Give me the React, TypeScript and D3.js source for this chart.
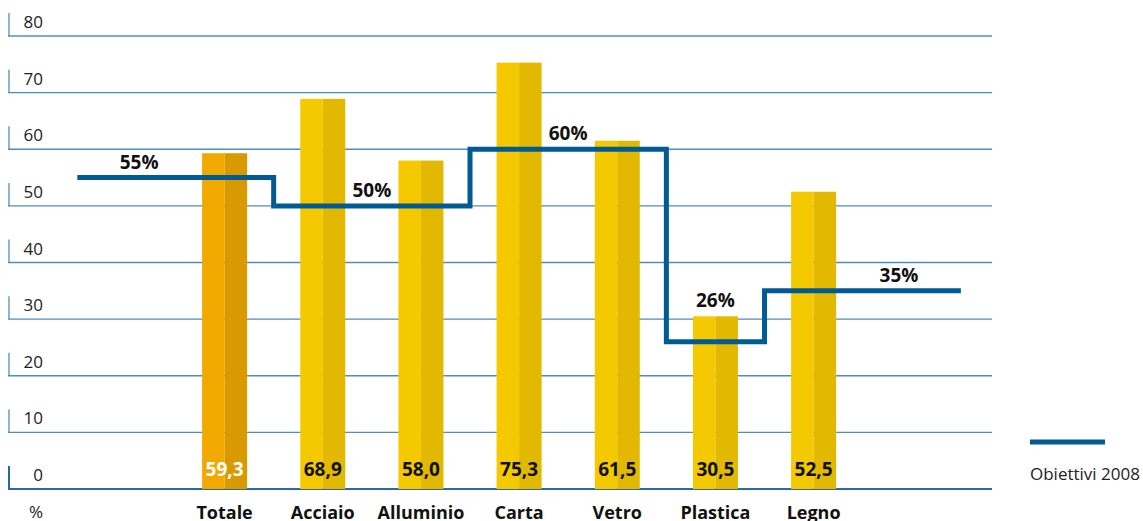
import React from 'react';
import * as d3 from 'd3';

const categories = ['Totale', 'Acciaio', 'Alluminio', 'Carta', 'Vetro', 'Plastica', 'Legno'];
const recycled = [59.3, 68.9, 58.0, 75.3, 61.5, 30.5, 52.5];
const objectives = [55, 50, 50, 60, 60, 26, 35];
const yTicks = [0, 10, 20, 30, 40, 50, 60, 70, 80];

const W = 1143;
const H = 521;
const font = '"Open Sans", "Noto Sans", sans-serif';
const lineBlue = '#005b94';
const gridBlue = '#4f8dbf';

export default function App() {
  const y = d3.scaleLinear().domain([0, 80]).range([489, 36]);
  const x = d3.scaleBand<string>()
    .domain(categories)
    .range([175.5, 862.7])
    .paddingInner(0.5416)
    .paddingOuter(0.2708);
  const step = x.step();
  const bw = x.bandwidth();
  const cx = (c: string) => (x(c) as number) + bw / 2;

  // step line: one band past each end
  const pts: [number, number][] = [];
  categories.forEach((c, i) => {
    const left = i === 0 ? cx(c) - 1.5 * step : cx(c) - step / 2;
    const right = i === categories.length - 1 ? cx(c) + 1.5 * step : cx(c) + step / 2;
    pts.push([left, y(objectives[i])], [right, y(objectives[i])]);
  });
  const line = d3.line();

  // group consecutive equal objectives for labels
  const segs: { v: number; from: number; to: number }[] = [];
  objectives.forEach((v, i) => {
    const last = segs[segs.length - 1];
    if (last && last.v === v) last.to = i;
    else segs.push({ v, from: i, to: i });
  });

  return (
    <svg width={W} height={H} style={{ position: 'absolute', left: 0, top: 0, background: '#fff' }}>
      {yTicks.map(t => (
        <g key={t}>
          <line x1={8} x2={992} y1={y(t)} y2={y(t)} stroke={t === 0 ? '#2a6aa3' : gridBlue} strokeWidth={t === 0 ? 2 : 1.3} />
          <line x1={9} x2={9} y1={y(t) - 23} y2={y(t)} stroke={t === 0 ? '#2a6aa3' : gridBlue} strokeWidth={t === 0 ? 2 : 1.3} />
          <text x={43} y={y(t) - 8} textAnchor="end" fontFamily={font} fontSize={17} fill="#222">{t}</text>
        </g>
      ))}
      <text x={43} y={518} textAnchor="end" fontFamily={font} fontSize={17} fill="#222">%</text>

      {categories.map((c, i) => {
        const x0 = x(c) as number;
        const top = y(recycled[i]);
        const first = i === 0;
        return (
          <g key={c}>
            <rect x={x0} y={top} width={bw / 2} height={y(0) - top} fill={first ? '#f1a900' : '#f5c900'} />
            <rect x={x0 + bw / 2} y={top} width={bw / 2} height={y(0) - top} fill={first ? '#d99a00' : '#e2b900'} />
            <text x={cx(c)} y={476} textAnchor="middle" fontFamily={font} fontWeight="bold" fontSize={19} fill={first ? '#fff' : '#111'}>
              {recycled[i].toFixed(1).replace('.', ',')}
            </text>
            <text x={cx(c)} y={519} textAnchor="middle" fontFamily={font} fontWeight="bold" fontSize={18} fill="#111">{c}</text>
          </g>
        );
      })}

      <path d={line(pts) || ''} fill="none" stroke={lineBlue} strokeWidth={5} />

      {segs.map((s, k) => {
        let lx: number;
        let ly = y(s.v);
        if (s.from === 0 && s.to === 0) lx = cx(categories[0]) - 0.87 * step;
        else if (s.from === categories.length - 1) lx = cx(categories[s.from]) + 0.87 * step;
        else {
          lx = (cx(categories[s.from]) + cx(categories[s.to])) / 2;
          if (s.from === s.to) ly = Math.min(ly, y(recycled[s.from]));
        }
        return (
          <text key={k} x={lx} y={ly - 9} textAnchor="middle" fontFamily={font} fontWeight="bold" fontSize={19} fill="#111">
            {s.v}%
          </text>
        );
      })}

      <line x1={1030} x2={1105} y1={442} y2={442} stroke={lineBlue} strokeWidth={5} />
      <text x={1030} y={480} fontFamily={font} fontSize={17} fill="#222">Obiettivi 2008</text>
    </svg>
  );
}
